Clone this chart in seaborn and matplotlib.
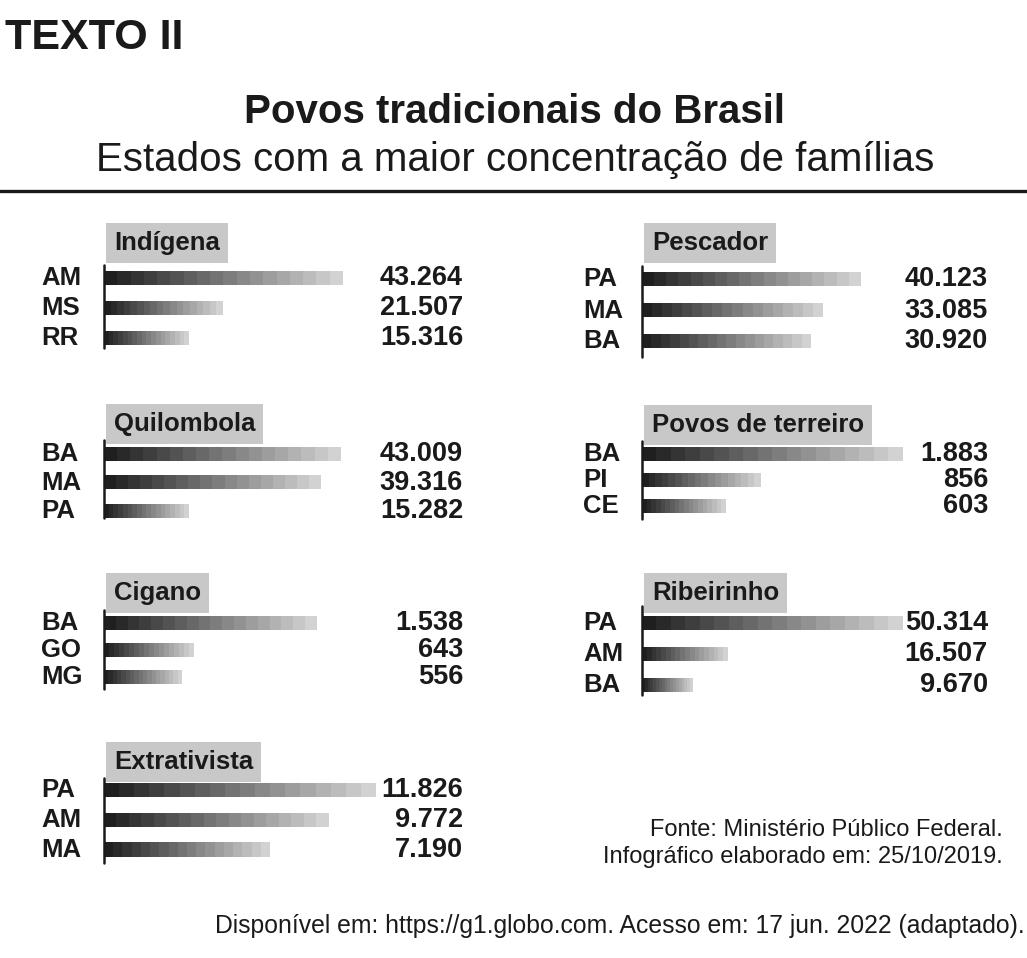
import numpy as np
import pandas as pd
import matplotlib
matplotlib.use("Agg")
import matplotlib.pyplot as plt
import matplotlib.transforms as mtransforms
from matplotlib.colors import LinearSegmentedColormap
from matplotlib.lines import Line2D
import seaborn as sns

# data: one list per category (states and number of families)
indigena_states = ["AM", "MS", "RR"]
indigena_values = [43264, 21507, 15316]
quilombola_states = ["BA", "MA", "PA"]
quilombola_values = [43009, 39316, 15282]
cigano_states = ["BA", "GO", "MG"]
cigano_values = [1538, 643, 556]
extrativista_states = ["PA", "AM", "MA"]
extrativista_values = [11826, 9772, 7190]
pescador_states = ["PA", "MA", "BA"]
pescador_values = [40123, 33085, 30920]
terreiro_states = ["BA", "PI", "CE"]
terreiro_values = [1883, 856, 603]
ribeirinho_states = ["PA", "AM", "BA"]
ribeirinho_values = [50314, 16507, 9670]

panels = [
    ("Indígena", indigena_states, indigena_values),
    ("Quilombola", quilombola_states, quilombola_values),
    ("Cigano", cigano_states, cigano_values),
    ("Extrativista", extrativista_states, extrativista_values),
    ("Pescador", pescador_states, pescador_values),
    ("Povos de terreiro", terreiro_states, terreiro_values),
    ("Ribeirinho", ribeirinho_states, ribeirinho_values),
]

# layout in pixels: axis x, axis top, axis bottom, first bar centre, last bar centre,
# longest bar end, title box centre y
layout = [
    (104, 265, 348, 278, 338, 343, 243),
    (104, 440, 518, 454, 511, 341, 424),
    (104, 610, 689, 623, 677, 317, 593),
    (104, 778, 863, 790, 850, 376, 762),
    (642, 266, 357, 279.5, 341.5, 861, 243),
    (642, 441, 519, 454, 506, 903, 425),
    (642, 606, 695, 623, 685, 903, 593),
]

W, H = 1027, 958
sns.set_style("white")
plt.rcParams["font.family"] = ["Liberation Sans", "DejaVu Sans"]

fig = plt.figure(figsize=(W / 100, H / 100), dpi=100)
fig.patch.set_facecolor("white")


def fx(x):
    return x / W


def fy(y):
    return 1 - y / H


# stepped grey gradient for the bars
grey = LinearSegmentedColormap.from_list("steps", ["#1f1f1f", "#d2d2d2"], N=18)
gradient = np.linspace(0, 1, 18).reshape(1, -1)

for (name, states, values), (ax_x, top, bottom, c0, c2, end, ty) in zip(panels, layout):
    ax = fig.add_axes([fx(ax_x), fy(bottom), fx(end - ax_x), (bottom - top) / H])
    u = 2 / (c2 - c0)  # data units per pixel
    df = pd.DataFrame({"state": states, "value": values})
    sns.barplot(data=df, x="value", y="state", orient="h", ax=ax,
                color="grey", width=14 * u)
    for p in ax.patches:
        x0, y0 = p.get_x(), p.get_y()
        w, h = p.get_width(), p.get_height()
        ax.imshow(gradient, cmap=grey, aspect="auto", interpolation="nearest",
                  extent=[x0, x0 + w, y0 + h, y0], zorder=3)
        p.set_alpha(0)
    ax.set_xlim(0, max(values))
    ax.set_ylim(2 + (bottom - c2) * u, -(c0 - top) * u)
    ax.set_axis_off()
    ax.add_line(Line2D([0, 0], [0, 1], transform=ax.transAxes, color="#1a1a1a",
                       lw=1.8, clip_on=False, zorder=4))

    # state labels and values
    right = ax_x > 500
    lab_x = 583 if right else 41
    val_x = 988 if right else 463
    trans = mtransforms.blended_transform_factory(fig.transFigure, ax.transData)
    for i, (s, v) in enumerate(zip(states, values)):
        ax.text(fx(lab_x), i, s, transform=trans, ha="left", va="center",
                fontsize=18.5, fontweight="bold", color="#1a1a1a", clip_on=False)
        ax.text(fx(val_x), i, f"{v:,}".replace(",", "."), transform=trans,
                ha="right", va="center", fontsize=19.5, fontweight="bold",
                color="#1a1a1a", clip_on=False)

    # category title in a grey box
    fig.text(fx(ax_x + 10), fy(ty), name, ha="left", va="center", fontsize=18.5,
             fontweight="bold", color="#1a1a1a",
             bbox=dict(boxstyle="square,pad=0.3", facecolor="#c8c8c8",
                       edgecolor="none"))

# headers
fig.text(fx(5), fy(38), "TEXTO II", ha="left", va="center", fontsize=31,
         fontweight="bold", color="#1a1a1a")
fig.text(fx(514), fy(112), "Povos tradicionais do Brasil", ha="center",
         va="center", fontsize=29, fontweight="bold", color="#1a1a1a")
fig.text(fx(515), fy(160), "Estados com a maior concentração de famílias",
         ha="center", va="center", fontsize=29, color="#1a1a1a")
fig.add_artist(Line2D([0, 1], [fy(191), fy(191)], transform=fig.transFigure,
                      color="#1a1a1a", lw=2.4))

# sources
fig.text(fx(1003), fy(830), "Fonte: Ministério Público Federal.", ha="right",
         va="center", fontsize=17, color="#1a1a1a")
fig.text(fx(1003), fy(857), "Infográfico elaborado em: 25/10/2019.", ha="right",
         va="center", fontsize=17, color="#1a1a1a")
fig.text(fx(1025), fy(926),
         "Disponível em: https://g1.globo.com. Acesso em: 17 jun. 2022 (adaptado).",
         ha="right", va="center", fontsize=17.8, color="#1a1a1a")

plt.savefig("out.png", dpi=100, facecolor="white")
